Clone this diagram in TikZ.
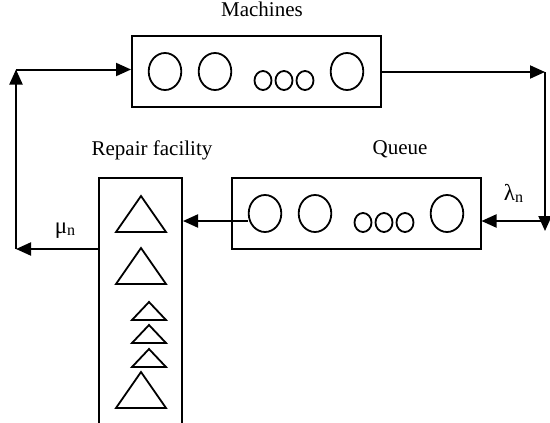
\documentclass[tikz,border=0pt]{standalone}
\usepackage{fontspec}
\setmainfont{Liberation Serif}
\usetikzlibrary{arrows.meta}

\newcommand{\lowsub}[1]{\raisebox{-2pt}{\fontsize{16}{16}\selectfont #1}}

\tikzset{
  box/.style={draw, line width=2pt, minimum width=249pt, minimum height=71pt, inner sep=0pt},
  ring/.style={line width=1.8pt},
  flow/.style={line width=2pt, -{Triangle[length=15pt,width=13pt]}},
  lbl/.style={font=\fontsize{21}{24}\selectfont, inner sep=0pt},
  rate/.style={font=\fontsize{23}{26}\selectfont, inner sep=0pt},
}

\begin{document}
\begin{tikzpicture}[x=1pt,y=-1pt]
  \useasboundingbox (0,0) rectangle (550,423);
  \clip (0,0) rectangle (550,423);

  % the three stations
  \node[box] (mach) at (256.5,71.5) {};
  \node[box] (queue) at (356,213.5) {};
  \node[box, minimum width=83pt, minimum height=260pt] (repair) at (140.5,308) {};

  \node[lbl, anchor=base] (machlbl) at (262,16.5) {Machines};
  \node[lbl, anchor=base] (repairlbl) at (152,155) {Repair facility};
  \node[lbl, anchor=base] (queuelbl) at (400,154) {Queue};

  % machines / jobs as circles
  \foreach \bx/\by in {132/71.5, 232/213.5} {
    \foreach \dx in {33,83,215}
      \draw[ring] (\bx+\dx,\by) ellipse (16.3pt and 18.5pt);
    \foreach \dx in {131,152,173}
      \draw[ring] (\bx+\dx,\by+9) ellipse (8.5pt and 9.5pt);
  }

  % servers as triangles
  \foreach \ty in {232,284,408}
    \draw[ring] (116,\ty) -- (141,\ty-36) -- (166,\ty) -- cycle;
  \foreach \ty in {320,343,367}
    \draw[ring] (132,\ty) -- (149,\ty-18) -- (166,\ty) -- cycle;

  % corners of the loop
  \coordinate (tl) at (16,69.5);
  \coordinate (bl) at (16,249);
  \coordinate (tr) at (545,72);
  \coordinate (br) at (545,231);
  \coordinate (qin) at (545,221);
  \coordinate (qout) at (248,221);

  \draw[flow] (tl) -- (tl -| mach.west);
  \draw[flow] (tr -| mach.east) -- (tr);
  \draw[flow] (tr) -- (br);
  \draw[flow] (qin) -- (qin -| queue.east);
  \draw[flow] (qout) -- (qout -| repair.east);
  \draw[flow] (bl -| repair.west) -- (bl);
  \draw[flow] (bl) -- (tl);

  \node[rate, anchor=base] (lam) at (513.5,200) {λ\lowsub{n}};
  \node[rate, anchor=base] (mu) at (65,233) {μ\lowsub{n}};
\end{tikzpicture}
\end{document}
